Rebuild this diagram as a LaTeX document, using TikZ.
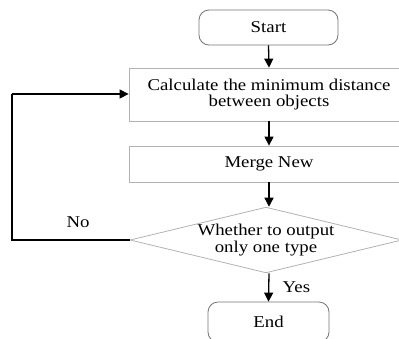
\documentclass[tikz,border=0pt]{standalone}
\usepackage{fontspec}
\setmainfont{Liberation Serif}[FakeStretch=1.14]
\usetikzlibrary{shapes.geometric,arrows.meta}
\tikzset{
  box/.style={draw=black!30, line width=0.8pt, inner sep=0pt, align=center,
    font=\fontsize{16.5}{16.5}\selectfont},
  term/.style={box, draw=black!55, rounded corners=10pt},
  dec/.style={box, shape=diamond, aspect=4},
  arr/.style={line width=1.3pt, -{Triangle[width=9pt,length=9pt]}},
  lbl/.style={font=\fontsize{16.5}{16.5}\selectfont}
}
\begin{document}
\begin{tikzpicture}[x=1pt,y=1pt]
\useasboundingbox (0,0) rectangle (399,-338);
\clip (0,0) rectangle (399,-338);
\node[term, minimum width=139pt, minimum height=35pt] (start) at (268.5,-27.5) {Start};
\node[box, minimum width=280pt, minimum height=53pt] (calc) at (269,-94.5) {Calculate the minimum distance\\between objects};
\node[box, minimum width=280pt, minimum height=36pt] (merge) at (269,-164) {Merge New};
\node[dec, minimum width=272pt, minimum height=65pt] (q) at (266,-240) {Whether to output\\only one type};
\node[term, minimum width=121pt, minimum height=40pt] (end) at (268.5,-322) {End};
\coordinate (loop) at (12,-240);
\coordinate (loopup) at (12,-94);
\draw[arr] (start.south) -- (calc.north);
\draw[arr] (calc.south) -- (merge.north);
\draw[arr] (merge.south) -- (merge.south |- q.north);
\draw[arr] (merge.south |- q.south) -- (end.north) node[lbl, midway, right=10pt] {Yes};
\draw[line width=1.3pt] (q.west) -- (loop) -- (loopup);
\draw[arr] (loopup) -- (loopup -| calc.west);
\node[lbl] (no) at (78,-222) {No};
\end{tikzpicture}
\end{document}
